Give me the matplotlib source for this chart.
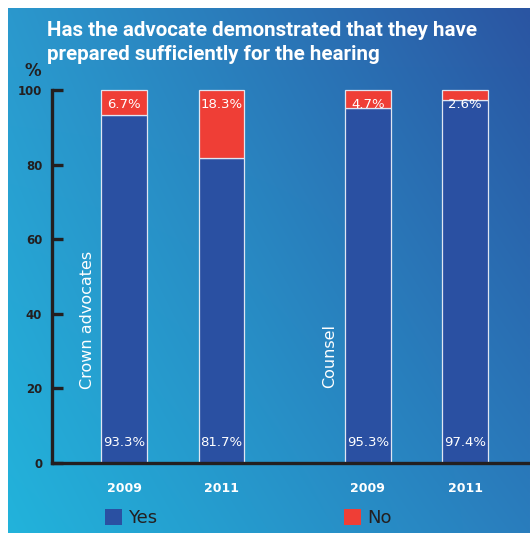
import numpy as np
import matplotlib
matplotlib.use("Agg")
import matplotlib.pyplot as plt
from matplotlib.colors import to_rgb

# Survey results: "Yes" / "No" share per group and year
years = ["2009", "2011", "2009", "2011"]
groups = ["Crown advocates", "Counsel"]
yes_pct = [93.3, 81.7, 95.3, 97.4]
no_pct = [6.7, 18.3, 4.7, 2.6]
yticks = [0, 20, 40, 60, 80, 100]

positions = [0, 1, 2.5, 3.5]
YES_COLOR = "#2a50a2"
NO_COLOR = "#ef3e36"
DARK = "#231f20"

W, H = 530, 533
fig = plt.figure(figsize=(W / 100, H / 100), dpi=100)
fig.patch.set_facecolor("white")

# Diagonal blue gradient panel (white margin on left and top)
bg = fig.add_axes([8 / W, 0, (W - 8) / W, (H - 8) / H])
bg.set_axis_off()
tl, tr = np.array(to_rgb("#2b98cd")), np.array(to_rgb("#2a55a2"))
bl, br = np.array(to_rgb("#22b3db")), np.array(to_rgb("#2a7dbd"))
u = np.linspace(0, 1, 200)[None, :, None]
v = np.linspace(0, 1, 200)[:, None, None]
grad = (1 - v) * ((1 - u) * tl + u * tr) + v * ((1 - u) * bl + u * br)
bg.imshow(grad, aspect="auto", extent=[0, 1, 0, 1], interpolation="bilinear")
bg.set_xlim(0, 1)
bg.set_ylim(0, 1)

# Main chart axes
x0, y0, y100 = 52, 463, 90
ax = fig.add_axes([x0 / W, (H - y0) / H, (W - x0) / W, (y0 - y100) / H])
ax.patch.set_alpha(0)
ax.set_xlim(-0.738, 4.164)
ax.set_ylim(0, 100)

width = 0.47
ax.bar(positions, yes_pct, width, color=YES_COLOR, edgecolor="#dfe6f2",
       linewidth=0.9, label="Yes", zorder=3, clip_on=False)
ax.bar(positions, no_pct, width, bottom=yes_pct, color=NO_COLOR,
       edgecolor="#dfe6f2", linewidth=0.9, label="No", zorder=3, clip_on=False)

for p, yv, nv in zip(positions, yes_pct, no_pct):
    ax.text(p, 5.4, f"{yv:.1f}%", ha="center", va="center", color="white",
            fontsize=9.5, zorder=5)
    ax.text(p, 96.2, f"{nv:.1f}%", ha="center", va="center", color="white",
            fontsize=9.5, zorder=5)

# Group labels, rotated
ax.text(-0.37, 38.4, groups[0], rotation=90, ha="center", va="center",
        color="white", fontsize=11.5, zorder=5)
ax.text(2.11, 28.8, groups[1], rotation=90, ha="center", va="center",
        color="white", fontsize=11.5, zorder=5)

for s in ["top", "right"]:
    ax.spines[s].set_visible(False)
for s in ["left", "bottom"]:
    ax.spines[s].set_color(DARK)
    ax.spines[s].set_linewidth(2.4)
    ax.spines[s].set_zorder(6)

ax.set_yticks(yticks)
ax.set_yticklabels([str(t) for t in yticks], fontsize=8.5, fontweight="bold",
                   color=DARK)
ax.tick_params(axis="y", direction="in", length=8, width=2.4, color=DARK,
               pad=7)
ax.set_xticks(positions)
ax.set_xticklabels(years, fontsize=9, fontweight="bold", color="white")
ax.tick_params(axis="x", length=0, pad=14)

ax.text(-0.738 - 0.2, 105.0, "%", ha="center", va="center", color=DARK,
        fontsize=12, fontweight="bold", transform=ax.transData, clip_on=False)

title_font = ["Roboto", "DejaVu Sans"]
fig.text(47 / W, 1 - 30 / H, "Has the advocate demonstrated that they have",
         color="white", fontsize=14.8, fontweight="bold", va="center",
         ha="left", family=title_font)
fig.text(47 / W, 1 - 55 / H, "prepared sufficiently for the hearing",
         color="white", fontsize=14.8, fontweight="bold", va="center",
         ha="left", family=title_font)

leg = ax.legend(loc="center left",
                bbox_to_anchor=((105 - x0) / (W - x0), -55 / (y0 - y100)),
                ncol=2, frameon=False, fontsize=13, handlelength=0.95,
                handleheight=0.95, handletextpad=0.35, columnspacing=10.3,
                borderaxespad=0, borderpad=0)
for t in leg.get_texts():
    t.set_color(DARK)
for h in leg.legend_handles:
    h.set_edgecolor("none")

fig.savefig("out.png", dpi=100)
